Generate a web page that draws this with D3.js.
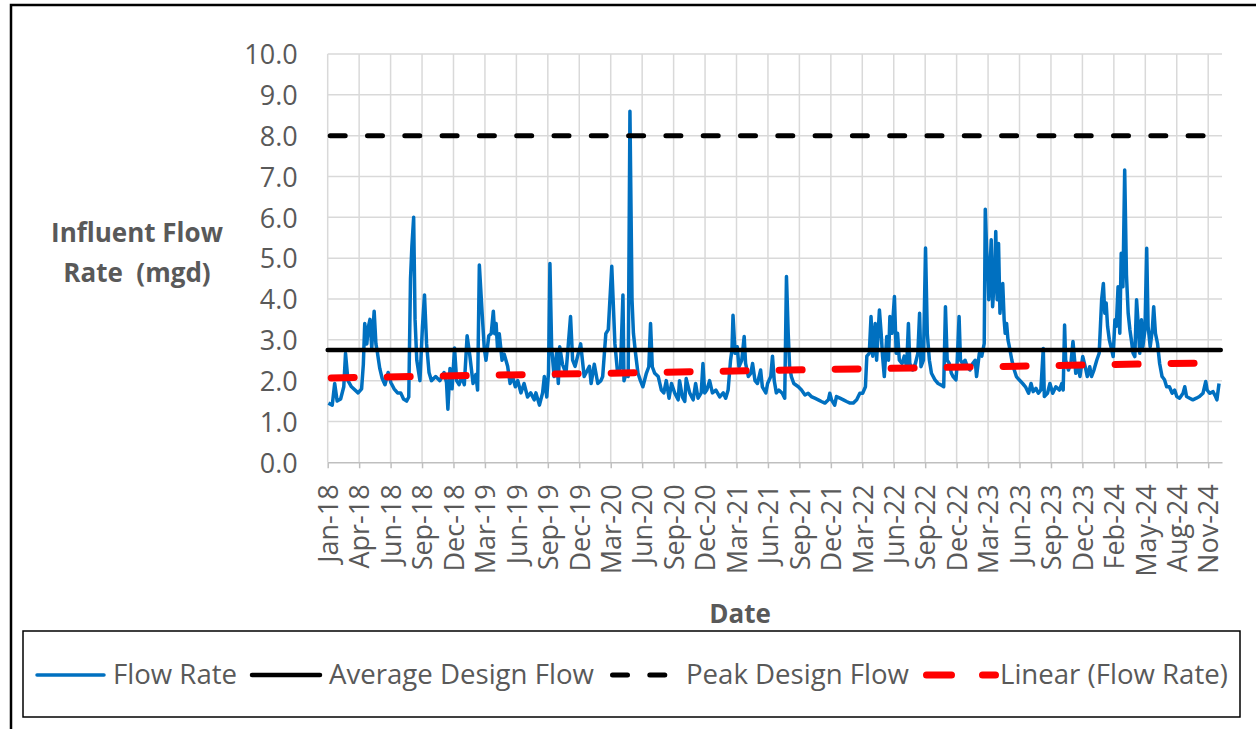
<!DOCTYPE html>
<html>
<head>
<meta charset="utf-8">
<script src="https://cdn.jsdelivr.net/npm/d3@7"></script>
<style>
  html, body { margin: 0; padding: 0; background: #fff; }
  svg { display: block; font-family: "Open Sans", "DejaVu Sans", sans-serif; }
</style>
</head>
<body>
<svg id="chart" width="1256" height="729"></svg>
<script>
// ---------------- DATA ----------------
const flow2018 = [
  ["2018-01-03",1.45],["2018-01-14",1.40],["2018-01-21",1.93],["2018-01-28",1.50],["2018-02-07",1.55],
  ["2018-02-16",1.85],["2018-02-21",2.67],["2018-02-28",2.00],["2018-03-10",1.85],["2018-03-29",1.70],
  ["2018-04-08",1.80],["2018-04-13",2.40],["2018-04-17",3.40],["2018-04-23",2.90],["2018-04-27",3.30],
  ["2018-05-02",3.50],["2018-05-07",2.80],["2018-05-14",3.70],["2018-05-19",2.90],["2018-05-23",2.70],
  ["2018-05-30",2.30],["2018-06-06",2.05],["2018-06-14",1.90],["2018-06-23",2.20],["2018-07-01",1.95],
  ["2018-07-10",1.80],["2018-07-20",1.70],["2018-07-29",1.70],["2018-08-06",1.55],["2018-08-15",1.50],
  ["2018-08-21",1.60],["2018-08-26",4.50],["2018-08-30",5.30],["2018-09-04",6.00],["2018-09-08",3.50],
  ["2018-09-13",2.50],["2018-09-22",2.00],["2018-09-29",3.30],["2018-10-05",4.10],["2018-10-11",2.90],
  ["2018-10-18",2.20],["2018-10-25",2.00],["2018-11-06",2.10],["2018-11-18",2.00],["2018-11-30",2.20],
  ["2018-12-07",1.95],["2018-12-11",1.30],["2018-12-17",2.30],["2018-12-23",1.80],["2018-12-30",2.80]
];
const flow2019 = [
  ["2019-01-05",2.00],["2019-01-12",1.90],["2019-01-20",2.10],["2019-01-27",1.90],["2019-02-04",3.10],
  ["2019-02-12",2.60],["2019-02-21",1.93],["2019-03-01",2.15],["2019-03-06",1.77],["2019-03-11",4.83],
  ["2019-03-19",3.65],["2019-03-25",2.80],["2019-03-30",2.50],["2019-04-07",3.10],["2019-04-14",3.15],
  ["2019-04-20",3.70],["2019-04-24",3.15],["2019-04-28",3.40],["2019-05-02",2.80],["2019-05-07",3.15],
  ["2019-05-15",2.50],["2019-05-21",2.65],["2019-05-31",2.35],["2019-06-07",1.93],["2019-06-14",2.10],
  ["2019-06-22",1.85],["2019-06-29",2.00],["2019-07-08",1.70],["2019-07-17",1.93],["2019-07-27",1.60],
  ["2019-08-05",1.70],["2019-08-15",1.53],["2019-08-20",1.70],["2019-08-30",1.40],["2019-09-08",1.70],
  ["2019-09-13",2.10],["2019-09-20",1.60],["2019-09-25",2.20],["2019-09-29",4.87],["2019-10-04",2.80],
  ["2019-10-11",2.10],["2019-10-18",2.67],["2019-10-23",1.93],["2019-10-27",2.83],["2019-11-04",2.40],
  ["2019-11-14",2.18],["2019-11-27",3.57],["2019-12-03",2.50],["2019-12-10",2.35],["2019-12-26",2.90]
];
const flow2020 = [
  ["2020-01-05",2.10],["2020-01-20",2.35],["2020-01-25",1.93],["2020-02-03",2.40],["2020-02-13",1.93],
  ["2020-02-22",2.00],["2020-02-27",2.10],["2020-03-07",3.15],["2020-03-14",3.25],["2020-03-24",4.80],
  ["2020-04-02",2.90],["2020-04-09",2.25],["2020-04-18",2.30],["2020-04-25",4.10],["2020-04-28",2.00],
  ["2020-05-05",2.20],["2020-05-10",2.10],["2020-05-15",8.60],["2020-05-21",3.97],["2020-05-25",3.16],
  ["2020-05-31",2.67],["2020-06-07",2.18],["2020-06-14",2.00],["2020-06-21",1.85],["2020-07-01",2.18],
  ["2020-07-08",2.34],["2020-07-13",3.40],["2020-07-18",2.34],["2020-07-25",2.18],["2020-08-04",2.10],
  ["2020-08-13",1.77],["2020-08-20",1.70],["2020-08-27",2.00],["2020-09-04",1.57],["2020-09-11",1.93],
  ["2020-09-20",1.70],["2020-09-30",1.53],["2020-10-04",2.00],["2020-10-12",1.60],["2020-10-19",1.49],
  ["2020-10-23",2.05],["2020-11-02",1.70],["2020-11-12",1.53],["2020-11-19",1.93],["2020-11-26",1.57],
  ["2020-12-05",1.70],["2020-12-10",2.42],["2020-12-15",1.70],["2020-12-21",1.77],["2020-12-29",2.00]
];
const flow2021 = [
  ["2021-01-06",1.70],["2021-01-16",1.77],["2021-01-27",1.60],["2021-02-06",1.70],["2021-02-13",1.57],
  ["2021-02-20",1.77],["2021-02-27",2.50],["2021-03-03",2.75],["2021-03-06",3.60],["2021-03-12",2.67],
  ["2021-03-18",2.83],["2021-03-23",2.34],["2021-03-31",2.50],["2021-04-07",3.08],["2021-04-11",2.42],
  ["2021-04-19",2.10],["2021-04-26",2.18],["2021-05-01",2.42],["2021-05-08",2.00],["2021-05-15",1.93],
  ["2021-05-24",2.26],["2021-05-29",1.85],["2021-06-08",1.70],["2021-06-13",1.93],["2021-06-22",2.10],
  ["2021-06-27",2.60],["2021-07-02",2.00],["2021-07-08",1.70],["2021-07-15",1.77],["2021-07-25",1.69],
  ["2021-08-01",1.57],["2021-08-06",4.55],["2021-08-11",3.16],["2021-08-15",2.34],["2021-08-20",2.10],
  ["2021-08-27",1.93],["2021-09-09",1.85],["2021-09-18",1.77],["2021-09-28",1.65],["2021-10-07",1.69],
  ["2021-10-16",1.61],["2021-10-26",1.57],["2021-11-05",1.53],["2021-11-14",1.49],["2021-11-24",1.45],
  ["2021-12-04",1.53],["2021-12-08",1.69],["2021-12-13",1.53],["2021-12-22",1.40],["2021-12-27",1.61]
];
const flow2022 = [
  ["2022-01-06",1.57],["2022-01-16",1.53],["2022-01-25",1.49],["2022-02-04",1.45],["2022-02-13",1.45],
  ["2022-02-23",1.53],["2022-03-04",1.69],["2022-03-12",1.69],["2022-03-20",1.85],["2022-03-24",2.60],
  ["2022-03-31",2.67],["2022-04-05",3.57],["2022-04-10",2.60],["2022-04-17",3.40],["2022-04-21",2.50],
  ["2022-04-29",3.73],["2022-05-04",3.16],["2022-05-08",2.60],["2022-05-13",2.10],["2022-05-20",3.08],
  ["2022-05-25",2.50],["2022-05-29",3.57],["2022-06-04",3.16],["2022-06-11",4.06],["2022-06-16",2.67],
  ["2022-06-20",3.16],["2022-06-25",2.50],["2022-07-03",2.42],["2022-07-09",2.60],["2022-07-16",2.34],
  ["2022-07-21",3.40],["2022-07-25",2.42],["2022-08-02",2.26],["2022-08-10",2.42],["2022-08-17",2.67],
  ["2022-08-22",3.65],["2022-08-26",2.34],["2022-09-02",2.50],["2022-09-08",5.25],["2022-09-13",3.16],
  ["2022-09-19",2.50],["2022-09-25",2.18],["2022-10-05",2.02],["2022-10-14",1.93],["2022-10-23",1.89],
  ["2022-10-30",1.85],["2022-11-04",3.81],["2022-11-09",2.50],["2022-11-15",2.42],["2022-11-21",2.18],
  ["2022-11-26",2.10],["2022-12-04",2.02],["2022-12-07",2.34],["2022-12-13",3.57],["2022-12-17",2.50],
  ["2022-12-23",2.42],["2022-12-30",2.50]
];
const flow2023 = [
  ["2023-01-06",2.34],["2023-01-13",2.26],["2023-01-21",2.42],["2023-01-28",2.50],["2023-02-01",2.10],
  ["2023-02-09",2.67],["2023-02-16",2.60],["2023-02-23",2.91],["2023-02-26",6.20],["2023-03-02",5.18],
  ["2023-03-06",4.60],["2023-03-08",3.98],["2023-03-12",4.80],["2023-03-15",5.45],["2023-03-19",3.81],
  ["2023-03-25",4.60],["2023-03-28",5.65],["2023-04-01",3.98],["2023-04-05",5.36],["2023-04-09",3.65],
  ["2023-04-13",4.14],["2023-04-17",4.38],["2023-04-21",3.49],["2023-04-24",3.16],["2023-04-28",3.40],
  ["2023-05-02",3.00],["2023-05-06",2.83],["2023-05-13",2.50],["2023-05-20",2.26],["2023-05-26",2.10],
  ["2023-06-03",2.02],["2023-06-13",1.93],["2023-06-21",1.85],["2023-06-30",1.69],["2023-07-07",1.93],
  ["2023-07-13",1.73],["2023-07-21",1.81],["2023-07-28",1.69],["2023-08-04",1.77],["2023-08-11",2.79],
  ["2023-08-14",1.61],["2023-08-23",1.69],["2023-08-30",1.93],["2023-09-07",1.69],["2023-09-16",1.85],
  ["2023-09-26",1.77],["2023-10-03",1.93],["2023-10-07",1.77],["2023-10-11",3.36],["2023-10-14",2.50],
  ["2023-10-22",2.26],["2023-10-29",2.42],["2023-11-04",2.96],["2023-11-12",2.18],["2023-11-19",2.34],
  ["2023-11-24",2.10],["2023-12-02",2.59],["2023-12-09",2.34],["2023-12-15",2.10],["2023-12-22",2.34],
  ["2023-12-27",2.10]
];
const flow2024 = [
  ["2024-01-03",2.26],["2024-01-11",2.50],["2024-01-18",2.67],["2024-01-25",3.98],["2024-01-30",4.38],
  ["2024-02-03",3.65],["2024-02-07",3.90],["2024-02-11",3.33],["2024-02-16",3.00],["2024-02-23",2.75],
  ["2024-02-27",2.59],["2024-03-03",3.49],["2024-03-07",3.33],["2024-03-12",4.30],["2024-03-17",3.16],
  ["2024-03-21",5.12],["2024-03-26",4.30],["2024-03-31",7.16],["2024-04-05",4.60],["2024-04-10",3.65],
  ["2024-04-15",3.24],["2024-04-19",3.00],["2024-04-24",2.67],["2024-04-29",2.59],["2024-05-04",3.98],
  ["2024-05-09",3.33],["2024-05-13",2.67],["2024-05-18",3.49],["2024-05-22",2.83],["2024-05-28",3.24],
  ["2024-06-02",5.24],["2024-06-06",3.33],["2024-06-12",2.83],["2024-06-18",3.24],["2024-06-22",3.81],
  ["2024-06-27",3.16],["2024-07-03",2.91],["2024-07-09",2.42],["2024-07-16",2.10],["2024-07-23",2.02],
  ["2024-07-29",1.85],["2024-08-06",1.85],["2024-08-14",1.69],["2024-08-21",1.77],["2024-08-27",1.61],
  ["2024-09-04",1.57],["2024-09-14",1.69],["2024-09-19",1.85],["2024-09-24",1.61],["2024-10-03",1.57],
  ["2024-10-12",1.53],["2024-10-22",1.57],["2024-10-31",1.61],["2024-11-10",1.69],["2024-11-18",1.98],
  ["2024-11-22",1.77],["2024-11-29",1.69],["2024-12-09",1.73],["2024-12-16",1.61],["2024-12-20",1.53],
  ["2024-12-26",1.93]
];

const lineDates = ["2018-01-01", "2024-12-31"];
const averageDesignFlow = [2.75, 2.75];
const peakDesignFlow = [8.0, 8.0];
const linearTrend = [2.065, 2.44];

const tickDates = ["2018-01-01","2018-04-01","2018-06-30","2018-09-28","2018-12-27","2019-03-27",
  "2019-06-25","2019-09-23","2019-12-22","2020-03-21","2020-06-19","2020-09-17","2020-12-16",
  "2021-03-16","2021-06-14","2021-09-12","2021-12-11","2022-03-11","2022-06-09","2022-09-07",
  "2022-12-06","2023-03-06","2023-06-04","2023-09-02","2023-12-01","2024-02-29","2024-05-29",
  "2024-08-27","2024-11-25"];
const tickLabels = ["Jan-18","Apr-18","Jun-18","Sep-18","Dec-18","Mar-19","Jun-19","Sep-19","Dec-19",
  "Mar-20","Jun-20","Sep-20","Dec-20","Mar-21","Jun-21","Sep-21","Dec-21","Mar-22","Jun-22","Sep-22",
  "Dec-22","Mar-23","Jun-23","Sep-23","Dec-23","Feb-24","May-24","Aug-24","Nov-24"];
const yTicks = [0,1,2,3,4,5,6,7,8,9,10];

const legendLabels = ["Flow Rate", "Average Design Flow", "Peak Design Flow", "Linear (Flow Rate)"];

// ---------------- DRAW ----------------
const parse = d3.timeParse("%Y-%m-%d");
const svg = d3.select("#chart");
const textColor = "#595959";

const L = 327.7, R = 1222, T = 54, B = 462.3;
const x = d3.scaleTime()
  .domain([parse("2018-01-01"), new Date(2025, 0, 3, 12)])
  .range([L, R]);
const y = d3.scaleLinear().domain([0, 10]).range([B, T]);

// outer frame (partially visible)
svg.append("path")
  .attr("d", `M11,729 L11,5 L1256,5`)
  .attr("fill", "none").attr("stroke", "#000").attr("stroke-width", 2.5);

// horizontal gridlines
svg.append("g").selectAll("line").data(yTicks.filter(v => v > 0)).join("line")
  .attr("x1", L).attr("x2", R)
  .attr("y1", d => y(d)).attr("y2", d => y(d))
  .attr("stroke", "#d9d9d9").attr("stroke-width", 1.5);

// vertical gridlines
const tDates = tickDates.map(parse);
svg.append("g").selectAll("line").data(tDates).join("line")
  .attr("x1", d => x(d)).attr("x2", d => x(d))
  .attr("y1", T).attr("y2", B)
  .attr("stroke", "#d9d9d9").attr("stroke-width", 1.5);

// x axis (bottom) with ticks
const xAxis = d3.axisBottom(x)
  .tickValues(tDates)
  .tickFormat((d, i) => tickLabels[i])
  .tickSizeInner(6).tickSizeOuter(0);
const gx = svg.append("g").attr("transform", `translate(0,${B})`).call(xAxis);
gx.select(".domain").attr("stroke", "#bfbfbf").attr("stroke-width", 1.5);
gx.selectAll(".tick line").attr("stroke", "#bfbfbf").attr("stroke-width", 1.5);
gx.selectAll(".tick text")
  .attr("fill", textColor)
  .style("font-size", "27px")
  .style("font-family", "'Open Sans', sans-serif")
  .attr("text-anchor", "end")
  .attr("transform", "rotate(-90)")
  .attr("x", -22).attr("y", 0).attr("dy", "0.36em");

// y axis labels
const yAxis = d3.axisLeft(y).tickValues(yTicks).tickFormat(d3.format(".1f")).tickSize(0);
const gy = svg.append("g").attr("transform", `translate(${L},0)`).call(yAxis);
gy.select(".domain").remove();
gy.selectAll(".tick text")
  .attr("fill", textColor)
  .style("font-size", "27px")
  .style("font-family", "'Open Sans', sans-serif")
  .attr("x", -30).attr("dy", "0.36em");

// axis titles
const yTitle = svg.append("text")
  .attr("fill", textColor).attr("text-anchor", "middle")
  .style("font-size", "26px").style("font-weight", "700")
  .style("white-space", "pre");
yTitle.append("tspan").attr("x", 137).attr("y", 242).text("Influent Flow");
yTitle.append("tspan").attr("x", 137).attr("y", 282).text("Rate  (mgd)");

svg.append("text")
  .attr("x", 740).attr("y", 623)
  .attr("fill", textColor).attr("text-anchor", "middle")
  .style("font-size", "26px").style("font-weight", "700")
  .text("Date");

// series
const flowData = [].concat(flow2018, flow2019, flow2020, flow2021, flow2022, flow2023, flow2024)
  .map(d => ({date: parse(d[0]), value: d[1]}));
const line = d3.line().x(d => x(d.date)).y(d => y(d.value));

svg.append("path").datum(flowData)
  .attr("d", line)
  .attr("fill", "none").attr("stroke", "#0070C0").attr("stroke-width", 3.5)
  .attr("stroke-linejoin", "round");

const seriesOf = vals => lineDates.map((d, i) => ({date: parse(d), value: vals[i]}));

svg.append("path").datum(seriesOf(averageDesignFlow))
  .attr("d", line).attr("fill", "none")
  .attr("stroke", "#000").attr("stroke-width", 4.5).attr("stroke-linecap", "round");

svg.append("path").datum(seriesOf(peakDesignFlow))
  .attr("d", line).attr("fill", "none")
  .attr("stroke", "#000").attr("stroke-width", 5).attr("stroke-linecap", "round")
  .attr("stroke-dasharray", "15,22.3").attr("stroke-dashoffset", -2.5);

svg.append("path").datum(seriesOf(linearTrend))
  .attr("d", line).attr("fill", "none")
  .attr("stroke", "#ff0000").attr("stroke-width", 7).attr("stroke-linecap", "round")
  .attr("stroke-dasharray", "23,33").attr("stroke-dashoffset", -3.5);

// legend
svg.append("rect")
  .attr("x", 23).attr("y", 631).attr("width", 1217).attr("height", 86)
  .attr("fill", "#fff").attr("stroke", "#000").attr("stroke-width", 1.5);

const legendItems = [
  {label: legendLabels[0], x1: 37, x2: 104, color: "#0070C0", w: 3.5, dash: null, tx: 113},
  {label: legendLabels[1], x1: 252, x2: 320, color: "#000", w: 4.5, dash: null, tx: 329},
  {label: legendLabels[2], x1: 612.5, x2: 665, color: "#000", w: 5, dash: "15,22.3", tx: 686},
  {label: legendLabels[3], x1: 926.5, x2: 995.5, color: "#ff0000", w: 7, dash: "25,31", tx: 1000}
];
const lg = svg.append("g").selectAll("g").data(legendItems).join("g");
lg.append("line")
  .attr("x1", d => d.x1).attr("x2", d => d.x2).attr("y1", 675).attr("y2", 675)
  .attr("stroke", d => d.color).attr("stroke-width", d => d.w)
  .attr("stroke-linecap", "round")
  .attr("stroke-dasharray", d => d.dash);
lg.append("text")
  .attr("x", d => d.tx).attr("y", 684)
  .attr("fill", textColor).style("font-size", "27.6px")
  .text(d => d.label);
</script>
</body>
</html>
